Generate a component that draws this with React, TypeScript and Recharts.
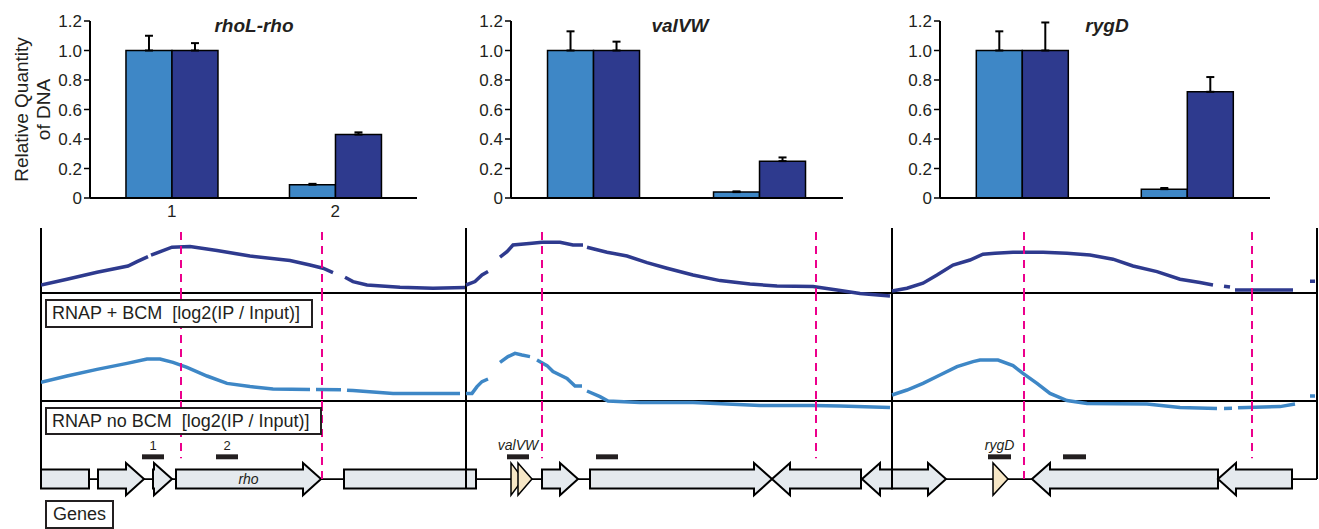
import {
  Bar,
  BarChart,
  ComposedChart,
  ErrorBar,
  Line,
  ReferenceArea,
  ReferenceLine,
  XAxis,
  YAxis,
} from 'recharts'

const FONT = '"Liberation Sans", Arial, Helvetica, sans-serif'
const INK = '#231f20'
const LIGHT = '#3e87c6'
const DARK = '#2e3a8e'
const PINK = '#ec008c'
const GENE_FILL = '#e5eaee'
const TAN = '#f7e7c6'

// qPCR bars (relative quantity of DNA), probe 1 and 2
const PROBES = ['1', '2']
const Y_TICKS = [0, 0.2, 0.4, 0.6, 0.8, 1.0, 1.2]

const RHO_NO_BCM = [1.0, 0.09]
const RHO_NO_BCM_ERR = [0.1, 0.006]
const RHO_BCM = [1.0, 0.43]
const RHO_BCM_ERR = [0.05, 0.015]

const VAL_NO_BCM = [1.0, 0.04]
const VAL_NO_BCM_ERR = [0.13, 0.005]
const VAL_BCM = [1.0, 0.25]
const VAL_BCM_ERR = [0.06, 0.025]

const RYG_NO_BCM = [1.0, 0.06]
const RYG_NO_BCM_ERR = [0.13, 0.008]
const RYG_BCM = [1.0, 0.72]
const RYG_BCM_ERR = [0.19, 0.1]

// ChIP-chip profiles, [position, log2(IP/Input)]
type Pt = [number, number | null]

const BCM_RHO: Pt[] = [
  [0, 0.4], [26, 0.69], [56, 1.04], [87, 1.35], [96, 1.57], [107, 1.82], [108.5, null], [110, 1.89],
  [131, 2.29], [149, 2.32], [176, 2.12], [209, 1.85], [249, 1.62], [269, 1.4], [282, 1.24],
  [292, 1.02], [298, null], [304, 0.79], [312, 0.57], [326, 0.4], [359, 0.29], [392, 0.24], [424, 0.27],
]
const BCM_VAL: Pt[] = [
  [425, 0.4], [434, 0.57], [441, 0.9], [447, 1.07], [453, null], [459, 1.79], [466, 2.07], [472, 2.4],
  [491, 2.49], [501, 2.54], [519, 2.54], [532, 2.4], [542, 2.4], [544, null], [546, 2.29], [566, 2.04],
  [586, 1.85], [606, 1.52], [626, 1.24], [652, 0.9], [679, 0.62], [709, 0.45], [736, 0.35],
  [772, 0.32], [796, 0.15], [819, -0.02], [849, -0.15],
]
const BCM_RYG: Pt[] = [
  [851, 0.1], [866, 0.24], [882, 0.49], [896, 0.9], [912, 1.4], [929, 1.65], [942, 1.94], [954, 1.99],
  [972, 2.04], [1002, 2.04], [1026, 1.99], [1049, 1.9], [1072, 1.69], [1092, 1.35], [1116, 1.07],
  [1139, 0.69], [1159, 0.52], [1172, 0.4], [1178, null], [1183, 0.34], [1189, 0.3], [1191, null],
  [1194, 0.15], [1252, 0.15], [1260, null], [1269, 0.59], [1274, 0.59],
]

const NOBCM_RHO: Pt[] = [
  [0, 0.93], [26, 1.25], [56, 1.58], [86, 1.88], [106, 2.1], [119, 2.1], [132, 1.93], [146, 1.68],
  [166, 1.25], [186, 0.88], [209, 0.72], [232, 0.6], [269, 0.58], [272, null], [275, 0.58],
  [300, 0.56], [303, null], [306, 0.54], [312, 0.52], [352, 0.38], [419, 0.38],
]
const NOBCM_VAL: Pt[] = [
  [425, 0.38], [431, 0.38], [436, 0.72], [441, 0.97], [447, 1.1], [453, null], [459, 1.93],
  [467, 2.22], [474, 2.38], [481, 2.3], [489, 2.22], [492, null], [496, 2.05], [506, 1.77],
  [512, 1.47], [526, 1.13], [534, 0.75], [541, 0.75], [543, null], [546, 0.5], [559, 0.22],
  [567, 0], [599, -0.07], [652, -0.08], [686, -0.15], [719, -0.22], [772, -0.22], [799, -0.25], [849, -0.32],
]
const NOBCM_RYG: Pt[] = [
  [851, 0.3], [866, 0.55], [882, 0.88], [899, 1.3], [916, 1.72], [932, 1.97], [939, 2.05], [957, 2.05],
  [972, 1.77], [982, 1.38], [996, 0.88], [1009, 0.38], [1026, 0.02], [1046, -0.12], [1106, -0.15],
  [1139, -0.32], [1176, -0.37], [1179, null], [1183, -0.37], [1191, -0.36], [1194, null],
  [1197, -0.34], [1206, -0.32], [1239, -0.28], [1254, -0.15], [1260, null], [1269, 0.25], [1274, 0.25],
]

// genome layout
const X_DOMAIN = [0, 1276]
const DIVIDERS = [0, 425, 851, 1276]
const PINK_MARKS = [140, 281, 501, 775, 983, 1211]
const PINK_TO_LINE = [281, 983]

type Gene = { start: number; end: number; dir: 'r' | 'l' | 'n'; tan?: boolean; name?: string }
const GENES: Gene[] = [
  { start: 0, end: 48, dir: 'n' },
  { start: 57, end: 103, dir: 'r' },
  { start: 112, end: 131, dir: 'r' },
  { start: 135, end: 280, dir: 'r', name: 'rho' },
  { start: 303, end: 435, dir: 'n' },
  { start: 470, end: 482, dir: 'r', tan: true },
  { start: 477, end: 491, dir: 'r', tan: true },
  { start: 501, end: 537, dir: 'r' },
  { start: 549, end: 731, dir: 'r' },
  { start: 731, end: 820, dir: 'l' },
  { start: 821, end: 851, dir: 'l' },
  { start: 851, end: 905, dir: 'r' },
  { start: 952, end: 967, dir: 'r', tan: true },
  { start: 991, end: 1177, dir: 'l' },
  { start: 1177, end: 1251, dir: 'l' },
]

type Probe = { start: number; end: number; label?: string; italic?: boolean }
const AMPLICONS: Probe[] = [
  { start: 101, end: 123, label: '1' },
  { start: 175, end: 197, label: '2' },
  { start: 466, end: 488, label: 'valVW', italic: true },
  { start: 555, end: 577 },
  { start: 947, end: 970, label: 'rygD', italic: true },
  { start: 1022, end: 1045 },
]

const HEAD = 18

const toRows = (pts: Pt[]) => pts.map(([pos, v]) => ({ pos, v }))

// two-line rotated y label; x is the baseline of each line
const quantityLabel = (props: any) => {
  const vb = props.viewBox || { y: 21, height: 177 }
  const cy = vb.y + vb.height / 2
  const lines: [string, number][] = [
    ['Relative Quantity', 28],
    ['of DNA', 50],
  ]
  return (
    <g>
      {lines.map(([t, bx]) => (
        <text key={t} x={bx} y={cy} transform={`rotate(-90 ${bx} ${cy})`} textAnchor="middle" fontSize={19} fill={INK} fontFamily={FONT}>
          {t}
        </text>
      ))}
    </g>
  )
}

function QpcrPanel(props: {
  left: number
  width: number
  title: string
  titleX: number
  noBcm: number[]
  noBcmErr: number[]
  bcm: number[]
  bcmErr: number[]
  first?: boolean
}) {
  const { left, width, title, titleX, noBcm, noBcmErr, bcm, bcmErr, first } = props
  const rows = PROBES.map((p, i) => ({
    probe: p,
    noBcm: noBcm[i],
    noBcmErr: [0, noBcmErr[i]],
    bcm: bcm[i],
    bcmErr: [0, bcmErr[i]],
  }))
  return (
    <>
      <div style={{ position: 'absolute', left, top: 0 }}>
        <BarChart width={width} height={225} data={rows} margin={{ top: 21, right: 13, bottom: 0, left: 0 }} barCategoryGap="22%" barGap={0}>
          <XAxis
            dataKey="probe"
            height={27}
            axisLine={{ stroke: '#000', strokeWidth: 2 }}
            tickLine={false}
            tick={first ? { fontSize: 17, fill: INK, fontFamily: FONT } : false}
            tickSize={4}
            tickMargin={3}
            interval={0}
          />
          <YAxis
            width={90}
            domain={[0, 1.2]}
            ticks={Y_TICKS}
            allowDataOverflow
            axisLine={{ stroke: '#000', strokeWidth: 2 }}
            tickLine={{ stroke: '#000', strokeWidth: 1.5 }}
            tickSize={6}
            tickMargin={2}
            tick={{ fontSize: 17, fill: INK, fontFamily: FONT }}
            tickFormatter={(v: number) => (v === 0 ? '0' : v.toFixed(1))}
            label={first ? quantityLabel : undefined}
          />
          <Bar dataKey="noBcm" fill={LIGHT} stroke="#000" strokeWidth={1.5} isAnimationActive={false}>
            <ErrorBar dataKey="noBcmErr" width={4} stroke="#000" strokeWidth={2} direction="y" />
          </Bar>
          <Bar dataKey="bcm" fill={DARK} stroke="#000" strokeWidth={1.5} isAnimationActive={false}>
            <ErrorBar dataKey="bcmErr" width={4} stroke="#000" strokeWidth={2} direction="y" />
          </Bar>
        </BarChart>
      </div>
      <div
        style={{
          position: 'absolute',
          left: titleX - 70,
          width: 140,
          top: 16,
          textAlign: 'center',
          fontSize: 19,
          lineHeight: '19px',
          fontWeight: 'bold',
          fontStyle: 'italic',
          color: INK,
        }}
      >
        {title}
      </div>
    </>
  )
}

function ProfileTrack(props: { top: number; height: number; yDomain: number[]; series: Pt[][]; color: string; pinkTop: number }) {
  const { top, height, yDomain, series, color, pinkTop } = props
  return (
    <div style={{ position: 'absolute', left: 0, top }}>
      <ComposedChart width={1319} height={height} margin={{ top: 0, right: 2, bottom: 0, left: 41 }}>
        <XAxis type="number" dataKey="pos" domain={X_DOMAIN} allowDataOverflow hide />
        <YAxis type="number" domain={yDomain} allowDataOverflow hide />
        <ReferenceLine y={0} stroke="#000" strokeWidth={2} />
        {DIVIDERS.map((x) => (
          <ReferenceLine key={`d${x}`} x={x} stroke="#000" strokeWidth={2} />
        ))}
        {series.map((s, i) => (
          <Line
            key={i}
            data={toRows(s)}
            dataKey="v"
            type="linear"
            stroke={color}
            strokeWidth={3.5}
            dot={false}
            activeDot={false}
            connectNulls={false}
            isAnimationActive={false}
          />
        ))}
        {PINK_MARKS.map((x) => (
          <ReferenceLine
            key={`p${x}`}
            segment={[{ x, y: pinkTop }, { x, y: yDomain[0] }]}
            stroke={PINK}
            strokeWidth={2}
            strokeDasharray="8 6"
          />
        ))}
      </ComposedChart>
    </div>
  )
}

function geneShape(g: Gene) {
  return (p: any) => {
    const { x, y, width: w, height: h } = p
    const mid = y + h / 2
    const half = h / 2
    const hh = half * 1.7
    const head = Math.min(HEAD, w)
    let pts: number[][]
    if (g.dir === 'r') {
      const b = x + w - head
      pts = [[x, mid - half], [b, mid - half], [b, mid - hh], [x + w, mid], [b, mid + hh], [b, mid + half], [x, mid + half]]
    } else if (g.dir === 'l') {
      const b = x + head
      pts = [[x + w, mid - half], [b, mid - half], [b, mid - hh], [x, mid], [b, mid + hh], [b, mid + half], [x + w, mid + half]]
    } else {
      pts = [[x, mid - half], [x + w, mid - half], [x + w, mid + half], [x, mid + half]]
    }
    return (
      <polygon
        points={pts.map((q) => q.join(',')).join(' ')}
        fill={g.tan ? TAN : GENE_FILL}
        stroke="#000"
        strokeWidth={g.tan ? 1.5 : 2}
      />
    )
  }
}

const GENE_Y = [-2.3, 8.2]

function GeneTrack() {
  return (
    <div style={{ position: 'absolute', left: 0, top: 401 }}>
      <ComposedChart width={1319} height={100} margin={{ top: 0, right: 2, bottom: 0, left: 41 }}>
        <XAxis type="number" dataKey="pos" domain={X_DOMAIN} allowDataOverflow hide />
        <YAxis type="number" domain={GENE_Y} allowDataOverflow hide />
        <ReferenceArea x1={0} x2={1276} y1={-0.1} y2={0.1} fill="#000" fillOpacity={1} stroke="none" />
        {GENES.map((g, i) => (
          <ReferenceArea
            key={`g${i}`}
            x1={g.start}
            x2={g.end}
            y1={-1}
            y2={1}
            shape={geneShape(g)}
            label={g.name ? { value: g.name, position: 'center', fontSize: 14, fontStyle: 'italic', fill: INK, fontFamily: FONT } : undefined}
          />
        ))}
        {AMPLICONS.map((a, i) => (
          <ReferenceArea
            key={`a${i}`}
            x1={a.start}
            x2={a.end}
            y1={2.08}
            y2={2.6}
            fill={INK}
            fillOpacity={1}
            stroke="none"
            label={
              a.label
                ? { value: a.label, position: 'top', offset: 4, fontSize: a.italic ? 14 : 13, fontStyle: a.italic ? 'italic' : 'normal', fill: INK, fontFamily: FONT }
                : undefined
            }
          />
        ))}
        {DIVIDERS.map((x) => (
          <ReferenceLine key={`d${x}`} segment={[{ x, y: GENE_Y[1] }, { x, y: x === 1276 ? 0 : -1 }]} stroke="#000" strokeWidth={2} />
        ))}
        {PINK_MARKS.map((x) => (
          <ReferenceLine
            key={`p${x}`}
            segment={[{ x, y: GENE_Y[1] }, { x, y: PINK_TO_LINE.includes(x) ? 0 : 2.2 }]}
            stroke={PINK}
            strokeWidth={2}
            strokeDasharray="8 6"
          />
        ))}
      </ComposedChart>
    </div>
  )
}

function TagBox(props: { left: number; top: number; width: number; height: number; pad: number; text: string }) {
  const { left, top, width, height, pad, text } = props
  return (
    <div
      style={{
        position: 'absolute',
        left,
        top,
        width,
        height,
        boxSizing: 'border-box',
        border: `2px solid ${INK}`,
        background: '#fff',
        fontSize: 18,
        lineHeight: `${height - 4}px`,
        paddingLeft: pad,
        whiteSpace: 'pre',
        color: INK,
      }}
    >
      {text}
    </div>
  )
}

export default function App() {
  return (
    <div
      style={{
        position: 'absolute',
        left: 0,
        top: 0,
        width: 1319,
        height: 529,
        background: '#fff',
        fontFamily: FONT,
        overflow: 'hidden',
      }}
    >
      <QpcrPanel left={0} width={430} title="rhoL-rho" titleX={254} noBcm={RHO_NO_BCM} noBcmErr={RHO_NO_BCM_ERR} bcm={RHO_BCM} bcmErr={RHO_BCM_ERR} first />
      <QpcrPanel left={421} width={435} title="valVW" titleX={680} noBcm={VAL_NO_BCM} noBcmErr={VAL_NO_BCM_ERR} bcm={VAL_BCM} bcmErr={VAL_BCM_ERR} />
      <QpcrPanel left={850} width={433} title="rygD" titleX={1107} noBcm={RYG_NO_BCM} noBcmErr={RYG_NO_BCM_ERR} bcm={RYG_BCM} bcmErr={RYG_BCM_ERR} />

      <ProfileTrack top={228} height={71} yDomain={[-0.3, 3.25]} series={[BCM_RHO, BCM_VAL, BCM_RYG]} color={DARK} pinkTop={3.05} />
      <ProfileTrack top={293} height={118} yDomain={[-0.5, 5.4]} series={[NOBCM_RHO, NOBCM_VAL, NOBCM_RYG]} color={LIGHT} pinkTop={5.4} />
      <GeneTrack />

      <TagBox left={45} top={299} width={268} height={29} pad={5} text="RNAP + BCM  [log2(IP / Input)]" />
      <TagBox left={45} top={407} width={277} height={28} pad={5} text="RNAP no BCM  [log2(IP / Input)]" />
      <TagBox left={45} top={500} width={69} height={29} pad={6} text="Genes" />
    </div>
  )
}
